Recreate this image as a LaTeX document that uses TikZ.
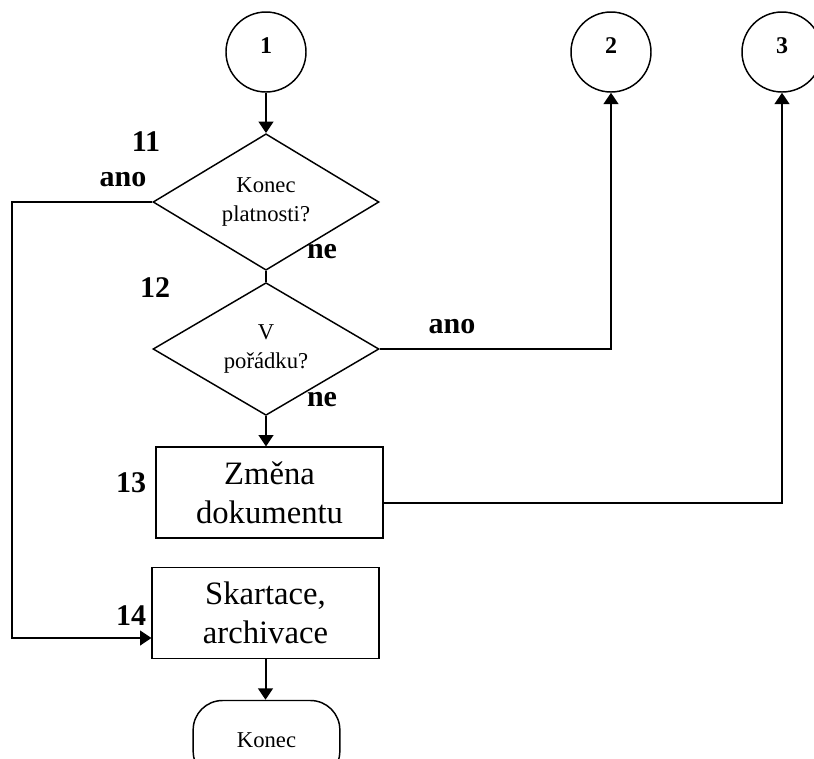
\documentclass[tikz,border=0pt]{standalone}
\usepackage{fontspec}
\setmainfont{Liberation Serif}
\usetikzlibrary{shapes.geometric, arrows.meta}

\begin{document}
\begin{tikzpicture}[x=0.75pt, y=-0.75pt,
  conn/.style={draw, circle, line width=1.1pt, minimum size=60pt, inner sep=0pt, font=\fontsize{18}{21}\selectfont\bfseries, text depth=9pt},
  decision/.style={draw, diamond, line width=1.1pt, minimum width=169.5pt, minimum height=99pt, inner sep=0pt, align=center, font=\fontsize{17}{21.5}\selectfont},
  stepbox/.style={draw, rectangle, line width=1.1pt, minimum width=170pt, minimum height=68pt, inner sep=0pt, align=center, font=\fontsize{24.5}{29}\selectfont},
  terminal/.style={draw, rectangle, rounded corners=22pt, line width=1.1pt, minimum width=110pt, minimum height=60pt, inner sep=0pt, font=\fontsize{17}{21}\selectfont},
  num/.style={font=\fontsize{22.5}{26}\selectfont\bfseries, inner sep=0pt},
  flow/.style={line width=1.5pt, -{Triangle[length=8.5pt, width=11pt]}},
  plain/.style={line width=1.5pt}]
\clip (0,0) rectangle (814,758);
\node (c1) [conn] at (266,52) {1};
\node (c2) [conn] at (611,52) {2};
\node (c3) [conn] at (782,52) {3};
\node (d1) [decision] at (266,202) {Konec\\platnosti?};
\node (d2) [decision] at (266,349) {V\\pořádku?};
\node (b13) [stepbox] at (269.5,492.5) {Změna\\dokumentu};
\node (b14) [stepbox] at (265.5,613) {Skartace,\\archivace};
\node (end) [terminal] at (266.5,740.5) {Konec};
% cisla a popisky
\node (Label11) [num] at (146,142) {11};
\node (Label12) [num] at (155,288) {12};
\node (Label13) [num] at (131,483) {13};
\node (Label14) [num] at (131,616) {14};
\node (Ano1) [num] at (123,180) {ano};
\node (Ne1) [num] at (322,252) {ne};
\node (Ano2) [num] at (452,327) {ano};
\node (Ne2) [num] at (322,400) {ne};
% spoje
\draw[flow] (c1) -- (d1);
\draw[plain] (d1.south) -- (d2.north);
\draw[flow] (d2.south) -- (d2.south |- b13.north);
\draw[flow] (b14.south) -- (b14.south |- end.north);
\draw[flow] (d1.west) -- ++(-140,0) |- ([yshift=-18.75pt]b14.west);
\draw[flow] (d2.east) -| (c2.south);
\draw[flow] ([yshift=-7.5pt]b13.east) -| (c3.south);
\end{tikzpicture}
\end{document}
